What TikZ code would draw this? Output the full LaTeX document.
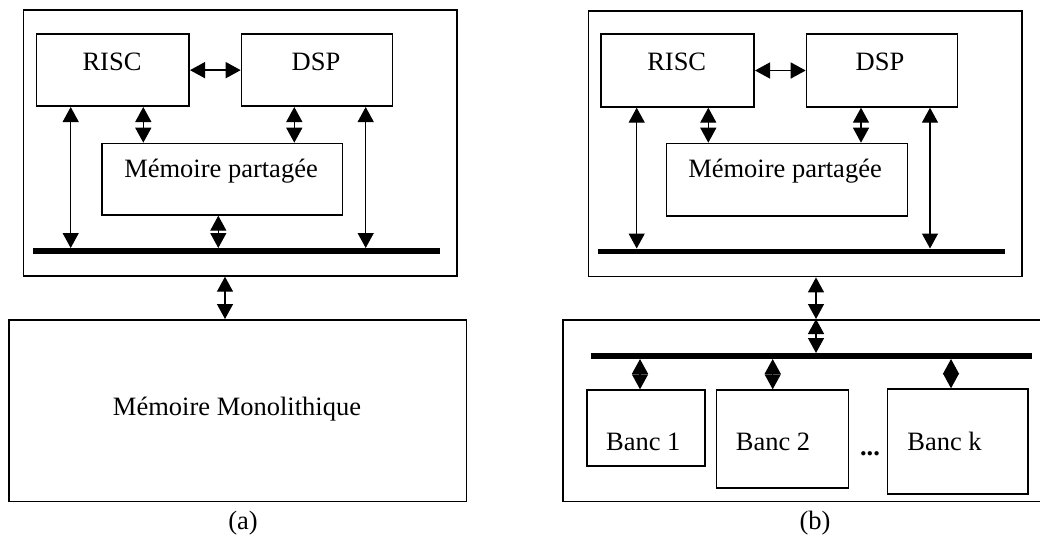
\documentclass[tikz,border=0pt]{standalone}
\usepackage{fontspec}
\setmainfont{Liberation Serif}
\usetikzlibrary{arrows.meta}
\begin{document}
\begin{tikzpicture}[>={Triangle[length=15pt,width=16pt]}, line join=miter, font=\fontsize{26.5}{30}\selectfont, x=1pt, y=-1pt, line width=1.7pt,
        boite/.style={draw, rectangle, inner sep=0pt, anchor=north west},
        busline/.style={line width=5.7pt},
        dbl/.style={<->, line width=1.4pt},
        txt/.style={anchor=base, inner sep=0pt}]
        \useasboundingbox (0,0) rectangle (1040,538);
        % (a)
        \node[boite, minimum width=433.3, minimum height=265.7] (outa) at (22.7,9.3) {};
        \node[boite, minimum width=152.6, minimum height=72] (risca) at (35.7,33.3) {};
        \node[boite, minimum width=151, minimum height=72] (dspa) at (240.7,33.3) {};
        \node[boite, minimum width=240.7, minimum height=71.3] (mema) at (101,142.7) {};
        \node[boite, minimum width=457.2, minimum height=181.7] (mona) at (8.3,319) {};
        \node[txt] (risca-t) at (112,70) {RISC};
        \node[txt] (dspa-t) at (316,70) {DSP};
        \node[txt] (mema-t) at (221,177) {Mémoire partagée};
        \node[txt] (mona-t) at (237,415) {Mémoire Monolithique};
        \node[txt] (capa) at (243,529) {(a)};
        \coordinate (busa1) at (33.3,251);
        \coordinate (busa2) at (440,251);
        \draw[busline] (busa1) -- (busa2);
        \coordinate (a1) at (70.7,248);
        \coordinate (a2) at (143.3,0);
        \coordinate (a3) at (218.3,248);
        \coordinate (a4) at (294.3,0);
        \coordinate (a5) at (365.7,248);
        \coordinate (a6) at (225,0);
        \draw[dbl] (risca) -- (dspa);
        \draw[dbl] (risca.south -| a1) -- (a1);
        \draw[dbl] (risca.south -| a2) -- (mema.north -| a2);
        \draw[dbl] (dspa.south -| a4) -- (mema.north -| a4);
        \draw[dbl] (mema.south -| a3) -- (a3);
        \draw[dbl] (dspa.south -| a5) -- (a5);
        \draw[dbl] (outa.south -| a6) -- (mona.north -| a6);
        % (b)
        \node[boite, minimum width=433.3, minimum height=265.7] (outb) at (587.7,10) {};
        \node[boite, minimum width=153.3, minimum height=72.7] (riscb) at (600,33.3) {};
        \node[boite, minimum width=151, minimum height=72.7] (dspb) at (805.7,33.3) {};
        \node[boite, minimum width=241, minimum height=72.3] (memb) at (665.7,142.7) {};
        \node[boite, minimum width=483, minimum height=181.7] (bancs) at (562.3,319) {};
        \node[boite, minimum width=118, minimum height=75.7] (banc1) at (586,389.3) {};
        \node[boite, minimum width=132, minimum height=98] (banc2) at (715.7,389.3) {};
        \node[boite, minimum width=140.6, minimum height=105] (banck) at (886.7,388.3) {};
        \node[txt] (riscb-t) at (676.7,70) {RISC};
        \node[txt] (dspb-t) at (880,70) {DSP};
        \node[txt] (memb-t) at (785,177) {Mémoire partagée};
        \node[txt] (banc1-t) at (643.3,450) {Banc 1};
        \node[txt] (banc2-t) at (773,450) {Banc 2};
        \node[txt] (banck-t) at (944.5,450) {Banc k};
        \node[txt] (dots) at (870,455) {\textbf{...}};
        \node[txt] (capb) at (815,529) {(b)};
        \coordinate (busb1) at (597.7,251.5);
        \coordinate (busb2) at (1005,251.5);
        \draw[busline] (busb1) -- (busb2);
        \coordinate (busc1) at (590.7,356);
        \coordinate (busc2) at (1031.7,356);
        \draw[busline] (busc1) -- (busc2);
        \coordinate (b1) at (636.7,248.5);
        \coordinate (b2) at (708.3,0);
        \coordinate (b4) at (861,0);
        \coordinate (b5) at (930,248.5);
        \coordinate (b6) at (816,353);
        \draw[dbl] (riscb) -- (dspb);
        \draw[dbl] (riscb.south -| b1) -- (b1);
        \draw[dbl] (riscb.south -| b2) -- (memb.north -| b2);
        \draw[dbl] (dspb.south -| b4) -- (memb.north -| b4);
        \draw[dbl] (dspb.south -| b5) -- (b5);
        \draw[dbl] (outb.south -| b6) -- (bancs.north -| b6);
        \draw[dbl] (bancs.north -| b6) -- (b6);
        \foreach \b/\x in {banc1/640,banc2/772.7,banck/951}{
            \coordinate (\b-p) at (\x,359);
            \draw[dbl] (\b-p) -- (\b.north -| \b-p);
        }
    \end{tikzpicture}
\end{document}
